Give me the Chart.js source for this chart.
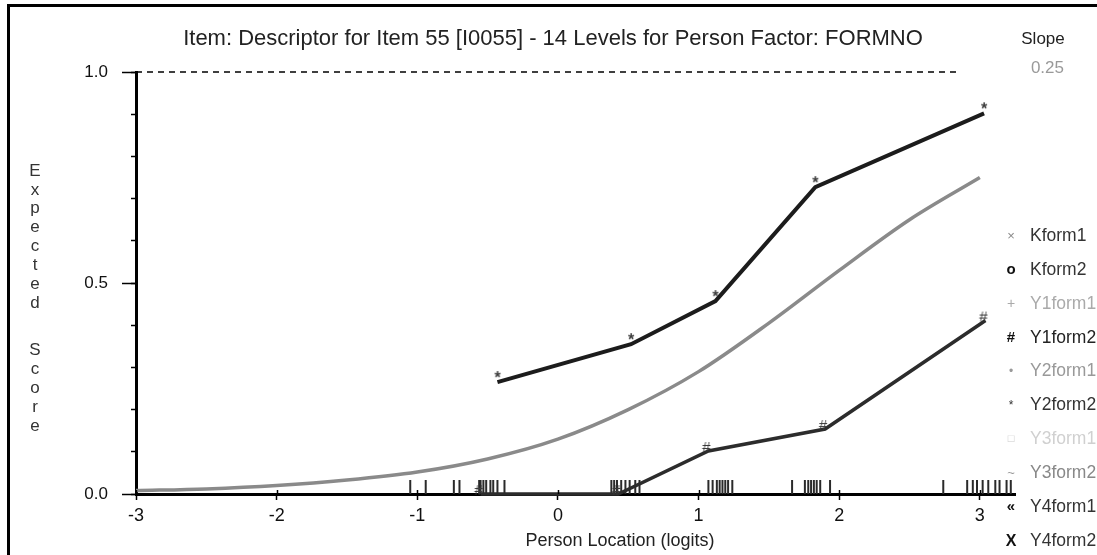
<!DOCTYPE html>
<html>
<head>
<meta charset="utf-8">
<script src="https://cdn.jsdelivr.net/npm/chart.js@4.4.1/dist/chart.umd.min.js"></script>
<style>
  html, body { margin: 0; padding: 0; background: #fff; }
  #wrap { position: relative; width: 1097px; height: 555px; overflow: hidden; background: #fff; }
  #wrap canvas { position: absolute; left: 0; top: 0; }
  #frame { position: absolute; left: 7px; top: 4px; width: 1200px; height: 700px;
           border-top: 3px solid #000; border-left: 3px solid #000; pointer-events: none; }
</style>
</head>
<body>
<div id="wrap">
  <canvas id="icc" width="1097" height="555"></canvas>
  <div id="frame"></div>
</div>
<script>
// ---- text ----
const titleText = 'Item: Descriptor for Item 55 [I0055] - 14 Levels for Person Factor: FORMNO';
const xAxisTitle = 'Person Location (logits)';
const yAxisTitleTop = 'Expected';
const yAxisTitleBottom = 'Score';
const slopeLabel = 'Slope';
const slopeValue = '0.25';

// ---- ticks ----
const xTickValues = [-3, -2, -1, 0, 1, 2, 3];
const yLabelValues = [0, 0.5, 1];
const yLabelTexts = ['0.0', '0.5', '1.0'];

// ---- expected score curve (model) ----
const iccX = [-3, -2.5, -2, -1.5, -1, -0.5, 0, 0.5, 1, 1.5, 2, 2.5, 3];
const iccY = [0.008, 0.012, 0.02, 0.033, 0.052, 0.083, 0.13, 0.2, 0.29, 0.405, 0.53, 0.65, 0.75];

// ---- observed means per class interval ----
const y2form2X = [-0.43, 0.52, 1.12, 1.83, 3.03];
const y2form2Y = [0.265, 0.355, 0.457, 0.727, 0.902];
const y1form2X = [-0.55, 0.43, 1.07, 1.90, 3.04];
const y1form2Y = [0, 0, 0.102, 0.154, 0.411];

// ---- person locations (rug) ----
const personLocations = [
  -1.05, -0.94, -0.74, -0.70, -0.56, -0.55, -0.53, -0.51, -0.48, -0.46, -0.43, -0.38,
  0.38, 0.40, 0.42, 0.45, 0.48, 0.51, 0.55, 0.58,
  1.07, 1.10, 1.13, 1.15, 1.17, 1.19, 1.21, 1.24,
  1.665, 1.756, 1.78, 1.80, 1.82, 1.84, 1.865, 1.935,
  2.74, 2.91, 2.95, 2.98, 3.02, 3.06, 3.11, 3.14, 3.19, 3.22, 3.37
];

// ---- person factor levels ----
const groupNames = ['Kform1', 'Kform2', 'Y1form1', 'Y1form2', 'Y2form1', 'Y2form2', 'Y3form1', 'Y3form2', 'Y4form1', 'Y4form2'];
const groupSymbols = ['\u00d7', 'o', '+', '#', '\u2022', '*', '\u25a1', '~', '\u00ab', 'X'];

// ---- styling ----
const FONT = "'Liberation Sans', Arial, sans-serif";
const groupTextColors = ['#333', '#333', '#aaa', '#222', '#999', '#333', '#d0d0d0', '#888', '#333', '#333'];
const groupSymbolColors = ['#888', '#111', '#aaa', '#111', '#999', '#333', '#ccc', '#999', '#111', '#111'];
const groupSymbolFonts = ['13px', 'bold 15px', '14px', 'bold 15px', '12px', '12px', '11px', '13px', 'bold 15px', 'bold 16px'];
const X_AXIS_END = 3.25;
const REF_LINE_END = 2.84;
const RUG_LEVEL = 0.0166;

function glyph(ch, color, font, w, h, dx, dy) {
  const c = document.createElement('canvas');
  c.width = w; c.height = h;
  const g = c.getContext('2d');
  g.fillStyle = color;
  g.font = font;
  g.textAlign = 'center';
  g.textBaseline = 'middle';
  g.fillText(ch, w / 2 + dx, h / 2 + dy);
  return c;
}
const starMark = glyph('*', '#3a3a3a', 'bold 16px ' + FONT, 20, 30, 0, -3);
const hashMark = glyph('#', '#3a3a3a', '15px ' + FONT, 20, 24, -2, -3);

const pts = (xs, ys) => xs.map((x, i) => ({ x, y: ys[i] }));

const decor = {
  id: 'decor',
  afterDraw(chart) {
    const { ctx, chartArea: a, scales: { x, y } } = chart;
    ctx.save();
    ctx.strokeStyle = '#000';
    // longer marks at labelled score values
    ctx.lineWidth = 1.5;
    yLabelValues.forEach(v => {
      const py = Math.round(y.getPixelForValue(v)) + 0.5;
      ctx.beginPath(); ctx.moveTo(a.left - 14, py); ctx.lineTo(a.left, py); ctx.stroke();
    });
    // x ticks also reach slightly above the axis
    xTickValues.forEach(v => {
      const px = Math.round(x.getPixelForValue(v)) + 0.5;
      ctx.beginPath(); ctx.moveTo(px, a.bottom - 4); ctx.lineTo(px, a.bottom); ctx.stroke();
    });
    ctx.textAlign = 'center';
    ctx.textBaseline = 'middle';
    // title
    ctx.font = '22px ' + FONT;
    ctx.fillStyle = '#222';
    ctx.fillText(titleText, 553, 39);
    // stacked y axis title
    ctx.fillStyle = '#333';
    ctx.font = '17px ' + FONT;
    [...yAxisTitleTop].forEach((ch, i) => ctx.fillText(ch, 35, 171 + i * 18.9));
    [...yAxisTitleBottom].forEach((ch, i) => ctx.fillText(ch, 35, 350 + i * 19.2));
    // x axis title
    ctx.font = '18px ' + FONT;
    ctx.fillStyle = '#222';
    ctx.fillText(xAxisTitle, 620, 541);
    // slope
    ctx.font = '17px ' + FONT;
    ctx.fillStyle = '#222';
    ctx.fillText(slopeLabel, 1043, 39);
    ctx.textAlign = 'right';
    ctx.fillStyle = '#999';
    ctx.fillText(slopeValue, 1064, 68);
    // factor level key
    groupNames.forEach((name, i) => {
      const ly = 236 + i * 33.9;
      ctx.textAlign = 'center';
      ctx.font = groupSymbolFonts[i] + ' ' + FONT;
      ctx.fillStyle = groupSymbolColors[i];
      ctx.fillText(groupSymbols[i], 1011, ly);
      ctx.textAlign = 'left';
      ctx.font = '17.5px ' + FONT;
      ctx.fillStyle = groupTextColors[i];
      ctx.fillText(name, 1030, ly);
    });
    ctx.restore();
  }
};

new Chart(document.getElementById('icc'), {
  type: 'scatter',
  data: {
    datasets: [
      {
        label: 'Y2form2',
        data: pts(y2form2X, y2form2Y),
        showLine: true,
        borderColor: '#1c1c1c',
        borderWidth: 4,
        pointStyle: starMark,
        pointRadius: 8,
        order: 1
      },
      {
        label: 'Y1form2',
        data: pts(y1form2X, y1form2Y),
        showLine: true,
        borderColor: '#2c2c2c',
        borderWidth: 3.5,
        pointStyle: hashMark,
        pointRadius: 8,
        clip: false,
        order: 2
      },
      {
        label: 'Expected',
        data: pts(iccX, iccY),
        showLine: true,
        borderColor: '#8a8a8a',
        borderWidth: 3.5,
        cubicInterpolationMode: 'monotone',
        pointRadius: 0,
        order: 3
      },
      {
        label: 'Persons',
        data: personLocations.map(v => ({ x: v, y: RUG_LEVEL })),
        showLine: false,
        pointStyle: 'line',
        rotation: 90,
        pointRadius: 7,
        borderColor: '#2a2a2a',
        borderWidth: 2,
        clip: false,
        order: 4
      },
      {
        label: 'Max',
        data: [{ x: -3, y: 1 }, { x: REF_LINE_END, y: 1 }],
        showLine: true,
        borderColor: '#000',
        borderWidth: 1.5,
        borderDash: [6, 5],
        pointRadius: 0,
        clip: false,
        order: 5
      }
    ]
  },
  options: {
    responsive: false,
    animation: false,
    layout: { padding: { left: 70, right: 82, top: 72, bottom: 0 } },
    plugins: {
      legend: { display: false },
      tooltip: { enabled: false },
      title: { display: false }
    },
    scales: {
      x: {
        type: 'linear',
        min: -3,
        max: X_AXIS_END,
        afterBuildTicks: s => { s.ticks = xTickValues.map(v => ({ value: v })); },
        afterFit: s => { s.height = 61; },
        ticks: {
          color: '#111',
          font: { family: FONT, size: 18 },
          padding: 5,
          maxRotation: 0,
          callback: v => String(v)
        },
        grid: { drawOnChartArea: false, drawTicks: true, tickLength: 6, tickColor: '#000', tickWidth: 1.5 },
        border: { color: '#000', width: 3 }
      },
      y: {
        type: 'linear',
        min: 0,
        max: 1,
        afterFit: s => { s.width = 66; },
        ticks: {
          stepSize: 0.1,
          color: '#111',
          font: { family: FONT, size: 17 },
          padding: 23,
          callback: v => {
            const i = yLabelValues.findIndex(t => Math.abs(t - v) < 1e-6);
            return i >= 0 ? yLabelTexts[i] : '';
          }
        },
        grid: { drawOnChartArea: false, drawTicks: true, tickLength: 5, tickColor: '#000', tickWidth: 1.5 },
        border: { color: '#000', width: 3 }
      }
    }
  },
  plugins: [decor]
});
</script>
</body>
</html>
